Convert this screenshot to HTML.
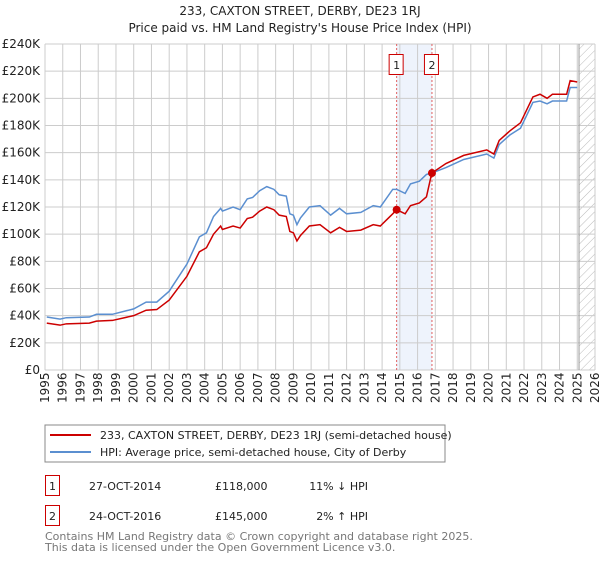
<!DOCTYPE html>
<html><head><meta charset="utf-8"><style>
body{margin:0;background:#fff;font-family:"DejaVu Sans","Liberation Sans",sans-serif;}
svg text{font-family:"DejaVu Sans","Liberation Sans",sans-serif;}
</style></head><body>
<svg id="c" width="600" height="560" xmlns="http://www.w3.org/2000/svg">
<defs><pattern id="hatch" width="6" height="6" patternUnits="userSpaceOnUse" patternTransform="rotate(45)"><line x1="0" y1="0" x2="0" y2="6" stroke="#bbb" stroke-width="1"/></pattern></defs>
<text x="300" y="15" text-anchor="middle" font-size="12" fill="#222">233, CAXTON STREET, DERBY, DE23 1RJ</text>
<text x="300" y="32" text-anchor="middle" font-size="12" fill="#222">Price paid vs. HM Land Registry's House Price Index (HPI)</text>
<g id="grid"></g><g id="marks"></g><g id="axes"></g>
<g>
<rect x="45" y="425" width="400" height="37" fill="#fff" stroke="#888"/>
<line x1="50" y1="435" x2="91" y2="435" stroke="#cc0000" stroke-width="2"/>
<text x="100" y="439" font-size="11" fill="#222">233, CAXTON STREET, DERBY, DE23 1RJ (semi-detached house)</text>
<line x1="50" y1="452" x2="91" y2="452" stroke="#5b8fd0" stroke-width="2"/>
<text x="100" y="456" font-size="11" fill="#222">HPI: Average price, semi-detached house, City of Derby</text>
</g>
<g font-size="11" fill="#222">
<rect x="45.5" y="475.5" width="14" height="20" fill="none" stroke="#cc0000"/><text x="52.5" y="490" text-anchor="middle">1</text>
<text x="89" y="490">27-OCT-2014</text><text x="215" y="490">£118,000</text><text x="368" y="490" text-anchor="end">11% ↓ HPI</text>
<rect x="45.5" y="505.5" width="14" height="20" fill="none" stroke="#cc0000"/><text x="52.5" y="520" text-anchor="middle">2</text>
<text x="89" y="520">24-OCT-2016</text><text x="215" y="520">£145,000</text><text x="368" y="520" text-anchor="end">2% ↑ HPI</text>
</g>
<text x="45" y="540" font-size="11" fill="#777">Contains HM Land Registry data © Crown copyright and database right 2025.</text>
<text x="45" y="551" font-size="11" fill="#777">This data is licensed under the Open Government Licence v3.0.</text>
</svg>
<script>
const years=[1995.1,1995.85,1996.2,1997.5,1997.9,1998.8,2000,2000.7,2001.3,2002,2003,2003.7,2004.1,2004.5,2004.9,2005,2005.6,2006,2006.4,2006.7,2007.1,2007.5,2007.9,2008.2,2008.6,2008.8,2009,2009.2,2009.4,2009.9,2010.5,2011.1,2011.6,2012,2012.8,2013.5,2013.9,2014.6,2014.82,2015.3,2015.6,2016.1,2016.5,2016.8,2017.6,2018.6,2019.9,2020.3,2020.6,2021.2,2021.8,2022.5,2022.9,2023.3,2023.6,2024.4,2024.6,2025.0];
const hpi=[39,37.5,38.5,39,41,41,45,50,50,58,78,98,101,113,119,117,120,118,126,127,132,135,133,129,128,115,114,107,112,120,121,114,119,115,116,121,120,133,133,130,137,139,144,145,149,155,159,156,166,173,178,197,198,196,198,198,208,208];
const price=[34.5,33,34,34.5,36,36.5,40,44,44.5,51.5,69,87,90,100,106,103.5,106,104.5,111.5,112.5,117,120,118,114,113,102,101,95,99,106,107,101,105,102,103,107,106,115,118,115,121,123,127.5,145,152,158,162,159,169,176,182,201,203,200,203,203,213,212];
const sales=[[2014.82,118],[2016.81,145]];
const yTicks=[0,20,40,60,80,100,120,140,160,180,200,220,240];
const xTicks=[];for(let y=1995;y<=2026;y++)xTicks.push(y);
const X=y=>45+(y-1995)*550/31, Y=v=>370-v*326/240;
const NS="http://www.w3.org/2000/svg";
function mk(p,t,a){const e=document.createElementNS(NS,t);for(const k in a)e.setAttribute(k,a[k]);p.appendChild(e);return e;}
const grid=document.getElementById('grid'),marks=document.getElementById('marks'),axes=document.getElementById('axes');
// shaded band & hatch
let band=mk(grid,'rect',{x:X(2014.82),y:Y(240),width:X(2016.81)-X(2014.82),height:Y(0)-Y(240),fill:'#eef3fc'});

let h=mk(grid,'rect',{x:X(2025.1),y:Y(240),width:X(2026)-X(2025.1),height:Y(0)-Y(240),fill:'url(#hatch)'});

yTicks.forEach(v=>{
 let l=mk(grid,'line',{x1:45,x2:595,y1:Y(v),y2:Y(v),stroke:'#ccc'});
 
 let t=mk(axes,'text',{x:40,y:Y(v)+4,'text-anchor':'end','font-size':'12',fill:'#222'});t.textContent=v===0?'£0':'£'+v+'K';
 
});
xTicks.forEach(y=>{
 let l=mk(grid,'line',{x1:X(y),x2:X(y),y1:Y(240),y2:Y(0),stroke:'#ccc'});
 
 let t=mk(axes,'text',{x:0,y:0,transform:`translate(${X(y)+4},${Y(0)+33}) rotate(-90)`,'font-size':'12',fill:'#222'});t.textContent=y;
 
});
let vl=mk(grid,'line',{x1:X(2025.1),x2:X(2025.1),y1:Y(240),y2:Y(0),stroke:'#999'});

sales.forEach((s,i)=>{
 let d=mk(marks,'line',{x1:X(s[0]),x2:X(s[0]),y1:Y(240),y2:Y(0),stroke:'#e06060','stroke-dasharray':'2,2'});
 
 let r=mk(marks,'rect',{x:X(s[0])-7.5,y:54.5,width:14,height:20,fill:'#fff',stroke:'#cc0000'});
 
 let t=mk(marks,'text',{x:X(s[0]),y:69,'text-anchor':'middle','font-size':'11',fill:'#222'});t.textContent=i+1;
 
});
let pb=mk(marks,'polyline',{points:years.map((y,i)=>X(y)+','+Y(hpi[i])).join(' '),fill:'none',stroke:'#5b8fd0','stroke-width':1.5});

let pr=mk(marks,'polyline',{points:years.map((y,i)=>X(y)+','+Y(price[i])).join(' '),fill:'none',stroke:'#cc0000','stroke-width':1.5});

sales.forEach(s=>{
 let c=mk(marks,'circle',{cx:X(s[0]),cy:Y(s[1]),r:4,fill:'#cc0000'});
 
});
</script>
</body></html>
